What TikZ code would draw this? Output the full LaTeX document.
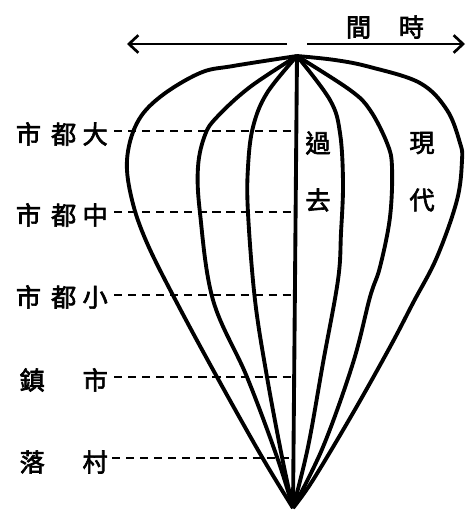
\documentclass[tikz,border=0pt]{standalone}
\usepackage{fontspec}
\newfontfamily\cjk[FakeBold=2.5]{Noto Sans CJK TC}
\usetikzlibrary{positioning, arrows.meta}

\tikzset{
    lbl/.style={font=\cjk\fontsize{21.5}{21.5}\selectfont, inner sep=0pt},
    curve/.style={line width=3.3pt, line join=round},
    guide/.style={line width=2pt, dash pattern=on 7pt off 5pt},
    timeline/.style={line width=2.3pt, -{Straight Barb[length=8pt,width=15pt,line width=2.3pt]}}
}

\begin{document}
\begin{tikzpicture}[x=0.03cm, y=-0.03cm]
            \useasboundingbox (0,0) rectangle (467,519);

            %Nodes
            \coordinate (top) at (297,56);
            \coordinate (bot) at (293,508);
            \coordinate (lgap) at (287,44);
            \coordinate (rgap) at (307,44);
            \coordinate (lend) at (127,44);
            \coordinate (rend) at (465,44);

            \node[lbl] at (385,27) (time) {間\hspace{1.1em}時};
            \node[lbl] at (318,143) (past1) {過};
            \node[lbl] at (318,200) (past2) {去};
            \node[lbl] at (422,143) (now1) {現};
            \node[lbl] at (422,200) (now2) {代};

            \node[lbl, anchor=east] at (108,134) (big) {市\hspace{0.4em}都\hspace{0.25em}大};
            \node[lbl, anchor=east] at (108,215) (mid) {市\hspace{0.4em}都\hspace{0.25em}中};
            \node[lbl, anchor=east] at (108,297) (small) {市\hspace{0.4em}都\hspace{0.25em}小};
            \node[lbl, anchor=east] at (108,380) (town) {鎮\hspace{1.5em}市};
            \node[lbl, anchor=east] at (108,462) (village) {落\hspace{1.5em}村};

            \coordinate (c1) at (291,131);
            \coordinate (c2) at (291,212);
            \coordinate (c3) at (291,295);
            \coordinate (c4) at (291,377);
            \coordinate (c5) at (291,458);

            %Lines
            \draw[timeline] (lgap) -- (lend);
            \draw[timeline] (rgap) -- (rend);

            \draw[curve] (top) -- (bot);
            \draw[curve] plot[smooth, tension=0.6] coordinates {(top) (233,66) (200,73) (160,97) (137,123) (127,160) (132,200) (147,243) (177,303) (217,377) (262,457) (bot)};
            \draw[curve] plot[smooth, tension=0.6] coordinates {(top) (250,87) (217,117) (205,135) (198,167) (200,213) (213,300) (247,377) (277,457) (bot)};
            \draw[curve] plot[smooth, tension=0.6] coordinates {(top) (267,93) (253,127) (248,167) (248,213) (255,300) (267,377) (282,457) (bot)};
            \draw[curve] plot[smooth, tension=0.6] coordinates {(top) (330,100) (340,133) (343,183) (341,233) (338,280) (323,363) (308,447) (bot)};
            \draw[curve] plot[smooth, tension=0.6] coordinates {(top) (350,90) (370,110) (387,143) (392,167) (390,217) (380,267) (370,297) (353,363) (323,447) (bot)};
            \draw[curve] plot[smooth, tension=0.6] coordinates {(top) (335,60) (370,67) (420,83) (447,110) (460,143) (462,160) (457,200) (437,257) (413,303) (390,347) (353,413) (313,480) (bot)};

            \draw[guide] (big.east) ++(6,-3) -- (c1);
            \draw[guide] (mid.east) ++(6,-3) -- (c2);
            \draw[guide] (small.east) ++(6,-2) -- (c3);
            \draw[guide] (town.east) ++(6,-3) -- (c4);
            \draw[guide] (village.east) ++(4,-4) -- (c5);
        \end{tikzpicture}
\end{document}
